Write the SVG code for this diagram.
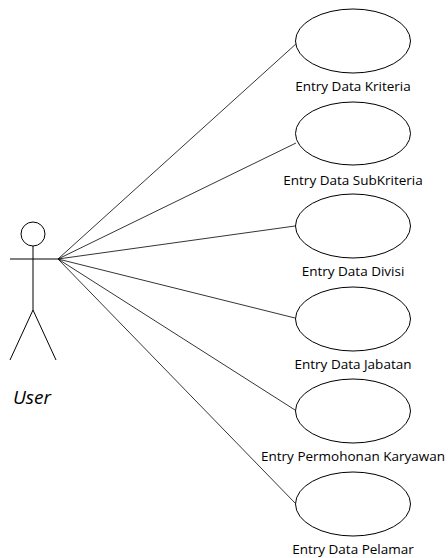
<svg xmlns="http://www.w3.org/2000/svg" width="448" height="558" viewBox="0 0 448 558">
<style>
.uc{fill:#fff;stroke:#000;stroke-width:1}
.lbl{font-family:"Open Sans","Liberation Sans",sans-serif;font-size:13.5px;fill:#000;text-anchor:middle}
.conn line{stroke:#000;stroke-width:0.8}
.actor{fill:none;stroke:#000;stroke-width:1}
</style>
<rect width="448" height="558" fill="#fff"/>
<g id="connectors" class="conn">
<line x1="58" y1="259" x2="297" y2="43"/>
<line x1="58" y1="259" x2="296" y2="143"/>
<line x1="58" y1="259" x2="295" y2="226"/>
<line x1="58" y1="259" x2="295" y2="318"/>
<line x1="58" y1="259" x2="295" y2="410"/>
<line x1="58" y1="259" x2="295" y2="503"/>
</g>
<g id="user">
<circle class="actor" cx="33" cy="234" r="12"/>
<line class="actor" x1="10" y1="259" x2="58" y2="259"/>
<line class="actor" x1="33" y1="246" x2="33" y2="310"/>
<line class="actor" x1="33" y1="310" x2="10" y2="360"/>
<line class="actor" x1="33" y1="310" x2="56" y2="360"/>
<text x="32" y="404" font-family="'Open Sans','Liberation Sans',sans-serif" font-size="19" font-style="italic" text-anchor="middle">User</text>
</g>
<g id="uc1"><ellipse class="uc" cx="353" cy="41" rx="57.5" ry="32"/><text class="lbl" x="353" y="91">Entry Data Kriteria</text></g>
<g id="uc2"><ellipse class="uc" cx="353" cy="133.5" rx="57.5" ry="31.5"/><text class="lbl" x="353" y="185">Entry Data SubKriteria</text></g>
<g id="uc3"><ellipse class="uc" cx="353" cy="226" rx="57.5" ry="32"/><text class="lbl" x="353" y="276">Entry Data Divisi</text></g>
<g id="uc4"><ellipse class="uc" cx="353" cy="319" rx="57.5" ry="32"/><text class="lbl" x="353" y="369">Entry Data Jabatan</text></g>
<g id="uc5"><ellipse class="uc" cx="353" cy="411" rx="57.5" ry="32"/><text class="lbl" x="353" y="461">Entry Permohonan Karyawan</text></g>
<g id="uc6"><ellipse class="uc" cx="353" cy="504" rx="57.5" ry="32"/><text class="lbl" x="353" y="554">Entry Data Pelamar</text></g>
</svg>
